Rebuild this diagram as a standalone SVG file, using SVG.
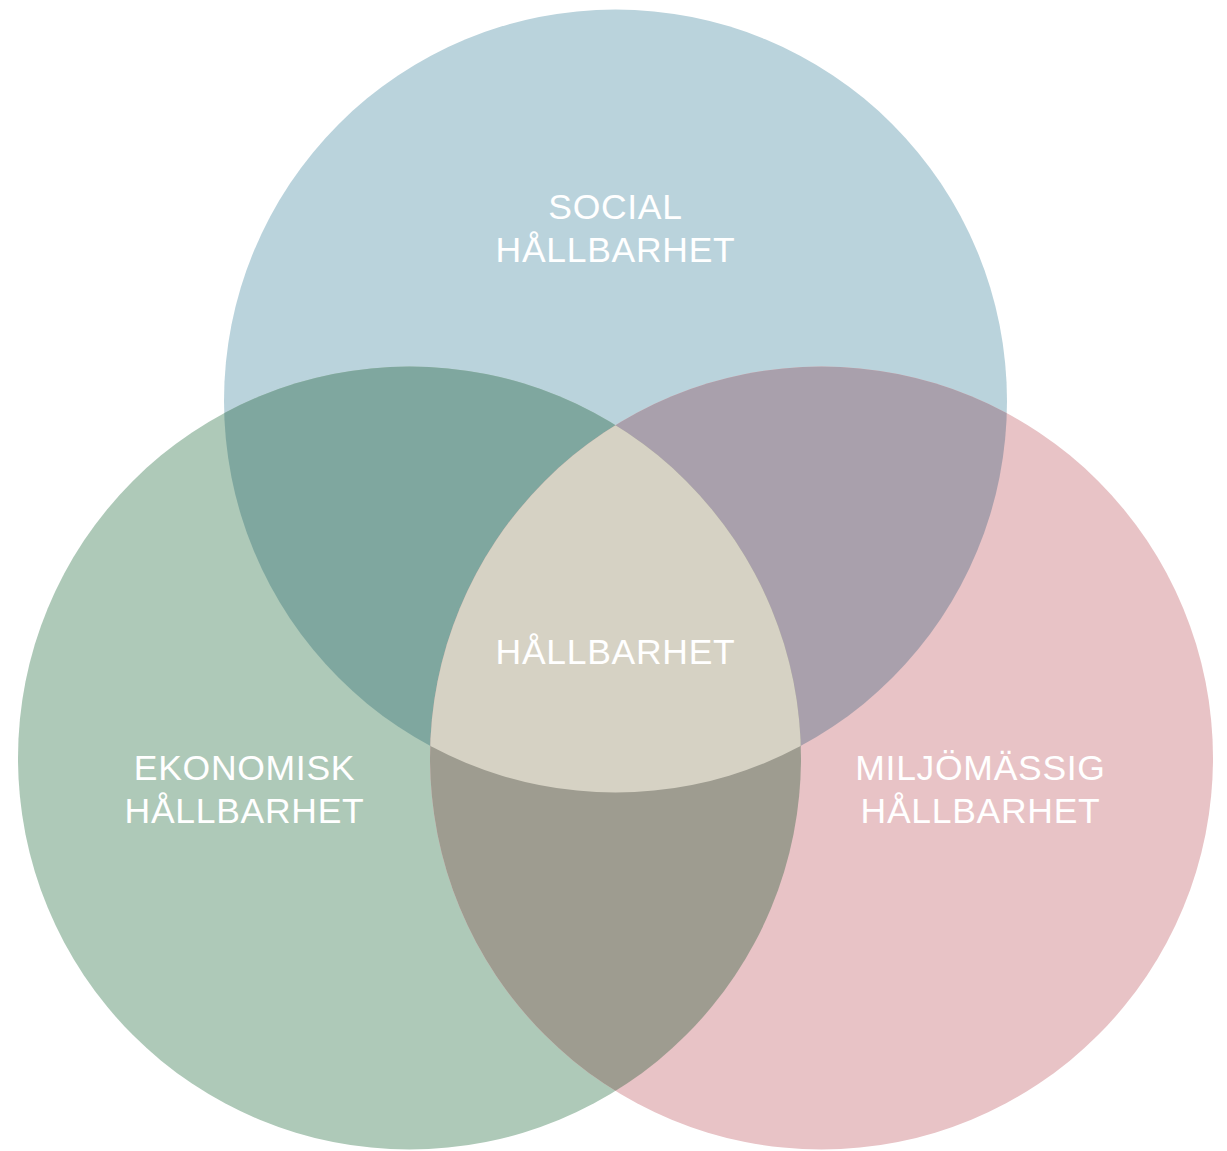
<svg xmlns="http://www.w3.org/2000/svg" width="1227" height="1151" viewBox="0 0 1227 1151">
<style>
.lbl{font-family:"Liberation Sans",Arial,sans-serif;font-size:35.5px;fill:#ffffff;text-anchor:middle;letter-spacing:0.7px}
</style>
<defs>
<clipPath id="cT"><circle cx="615.5" cy="401" r="391.5"/></clipPath>
<clipPath id="cL"><circle cx="409.5" cy="758" r="391.5"/></clipPath>
<clipPath id="cR"><circle cx="821.5" cy="758" r="391.5"/></clipPath>
</defs>
<rect width="1227" height="1151" fill="#ffffff"/>
<g id="social">
<circle cx="615.5" cy="401" r="391.5" fill="#BAD3DC"/>
</g>
<g id="ekonomisk">
<circle cx="409.5" cy="758" r="391.5" fill="#AEC9B8"/>
</g>
<g id="miljo">
<circle cx="821.5" cy="758" r="391.5" fill="#E8C3C6"/>
</g>
<g id="social-ekonomisk" clip-path="url(#cT)">
<circle cx="409.5" cy="758" r="391.5" fill="#7FA79F"/>
</g>
<g id="social-miljo" clip-path="url(#cT)">
<circle cx="821.5" cy="758" r="391.5" fill="#A9A0AC"/>
</g>
<g id="ekonomisk-miljo" clip-path="url(#cL)">
<circle cx="821.5" cy="758" r="391.5" fill="#9E9C90"/>
</g>
<g id="hallbarhet" clip-path="url(#cT)">
<g clip-path="url(#cL)">
<circle cx="821.5" cy="758" r="391.5" fill="#D6D2C4"/>
</g>
</g>
<g id="labels">
<text class="lbl" x="615.5" y="219">SOCIAL</text>
<text class="lbl" x="615.5" y="262">HÅLLBARHET</text>
<text class="lbl" x="244.5" y="780">EKONOMISK</text>
<text class="lbl" x="244.5" y="823">HÅLLBARHET</text>
<text class="lbl" x="980.5" y="780">MILJÖMÄSSIG</text>
<text class="lbl" x="980.5" y="823">HÅLLBARHET</text>
<text class="lbl" x="615.5" y="664">HÅLLBARHET</text>
</g>
</svg>
